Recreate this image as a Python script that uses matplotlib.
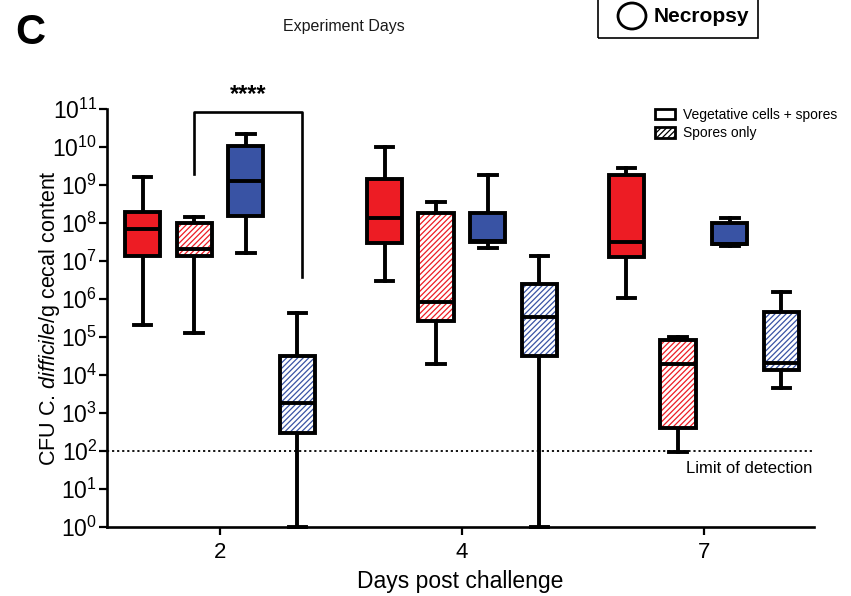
import numpy as np
import matplotlib.pyplot as plt
from matplotlib.patches import Patch, PathPatch, Rectangle, Ellipse

plt.rcParams['font.family'] = ['Liberation Sans', 'DejaVu Sans']
plt.rcParams['mathtext.fontset'] = 'custom'
plt.rcParams['mathtext.rm'] = 'Liberation Sans'
plt.rcParams['mathtext.it'] = 'Liberation Sans:italic'
plt.rcParams['hatch.linewidth'] = 0.9

# days post challenge, 4 boxes per day (log10 CFU values)
days = ['2', '4', '7']
groups = ['Veg red', 'Spore red', 'Veg blue', 'Spore blue']
group_colors = ['#ED1C24', '#ED1C24', '#3953A4', '#3953A4']
group_hatched = [False, True, False, True]

# each entry: [whislo, q1, median, q3, whishi] in log10
day2 = [[5.32, 7.13, 7.84, 8.29, 9.21],
        [5.10, 7.13, 7.32, 8.00, 8.16],
        [7.21, 8.18, 9.10, 10.03, 10.34],
        [0.00, 2.47, 3.26, 4.50, 5.63]]
day4 = [[6.47, 7.47, 8.13, 9.16, 10.00],
        [4.29, 5.42, 5.92, 8.26, 8.55],
        [7.34, 7.50, 7.53, 8.26, 9.26],
        [0.00, 4.50, 5.53, 6.39, 7.13]]
day7 = [[6.03, 7.10, 7.50, 9.26, 9.45],
        [1.97, 2.61, 4.29, 4.92, 5.00],
        [7.39, 7.45, 7.45, 8.00, 8.13],
        [3.66, 4.13, 4.32, 5.66, 6.18]]
all_days = [day2, day4, day7]

offsets = [-0.32, -0.107, 0.107, 0.32]
box_w = 0.145
lod = 1e2

fig = plt.figure(figsize=(8.51, 5.96), dpi=100)
ax = fig.add_axes([0.1257, 0.1158, 0.8308, 0.7013])

stats = []
positions = []
styles = []
for d, vals in enumerate(all_days):
    for g, v in enumerate(vals):
        lo, q1, med, q3, hi = [10 ** x for x in v]
        stats.append(dict(whislo=lo, q1=q1, med=med, q3=q3, whishi=hi, fliers=[]))
        positions.append(d + offsets[g])
        styles.append(g)

lw = 2.8
bp = ax.bxp(stats, positions=positions, widths=box_w, capwidths=box_w * 0.5,
            patch_artist=True, showfliers=False,
            boxprops=dict(linewidth=lw, edgecolor='black'),
            whiskerprops=dict(linewidth=lw, color='black'),
            capprops=dict(linewidth=lw, color='black'),
            medianprops=dict(linewidth=lw, color='black'),
            manage_ticks=False)

for box, g in zip(bp['boxes'], styles):
    box.set_zorder(3)
    if group_hatched[g]:
        box.set_facecolor('none')
        under = PathPatch(box.get_path(), facecolor='white', edgecolor=group_colors[g],
                          hatch='//////', linewidth=0, zorder=2.5,
                          transform=box.get_transform())
        ax.add_patch(under)
    else:
        box.set_facecolor(group_colors[g])
for art in bp['whiskers'] + bp['caps'] + bp['medians']:
    art.set_zorder(3.5)
    art.set_clip_on(False)
for art in bp['whiskers']:
    art.set_zorder(2)

ax.set_yscale('log')
ax.set_ylim(1, 1e11)
ax.set_xlim(-0.467, 2.455)
ax.set_yticks([10.0 ** k for k in range(12)])
ax.set_yticklabels([r'$10^{%d}$' % k for k in range(12)], fontsize=16.5)
ax.set_xticks(range(len(days)))
ax.set_xticklabels(days, fontsize=16)
ax.minorticks_on()
ax.xaxis.set_minor_locator(plt.NullLocator())
ax.tick_params(axis='both', which='major', length=6, width=1.6, direction='out')
ax.tick_params(axis='y', which='minor', length=3, width=1.0, direction='out')
ax.tick_params(axis='y', pad=1)
ax.tick_params(axis='x', pad=5)

for s in ['top', 'right']:
    ax.spines[s].set_visible(False)
for s in ['left', 'bottom']:
    ax.spines[s].set_linewidth(1.9)

ax.set_xlabel('Days post challenge', fontsize=16.5, labelpad=5)
ax.set_ylabel(r'CFU C. $\mathit{difficile}$/g cecal content', fontsize=15.5, labelpad=-7)

# limit of detection
ax.axhline(lod, color='black', linestyle=(0, (1.2, 1.6)), linewidth=1.3, zorder=1)
ax.text(2.45, lod * 0.55, 'Limit of detection', ha='right', va='top', fontsize=12)

# significance bracket between day 2 spore groups
x1 = 0 + offsets[1]
x2 = 0 + offsets[3] + 0.02
ytop = 10 ** 10.92
ax.plot([x1, x1, x2, x2], [10 ** 9.29, ytop, ytop, 10 ** 6.58], color='black',
        linewidth=1.9, clip_on=False, zorder=4)
ax.text((x1 + x2) / 2, 10 ** 11.08, '****', ha='center', va='bottom',
        fontsize=17, fontweight='bold')

# legend
handles = [Patch(facecolor='white', edgecolor='black', linewidth=2.0),
           Patch(facecolor='white', edgecolor='black', hatch='//////', linewidth=2.0)]
fig.legend(handles, ['Vegetative cells + spores', 'Spores only'],
           loc='upper left', bbox_to_anchor=(655 / 851, 1 - 108 / 596),
           frameon=False, fontsize=10, handlelength=1.45, handleheight=0.8,
           handletextpad=0.55, labelspacing=0.3, borderpad=0, borderaxespad=0)

# header pieces
fig.text(15 / 851, 1 - 33 / 596, 'C', fontsize=30, fontweight='bold', va='center', ha='left')
fig.text(283 / 851, 1 - 26 / 596, 'Experiment Days', fontsize=11.5, va='center', ha='left',
         color='#1a1a1a')
fig.add_artist(Rectangle((598 / 851, 1 - 38 / 596), 160 / 851, 50 / 596,
                         transform=fig.transFigure, fill=False, linewidth=1.2,
                         edgecolor='black', clip_on=False))
fig.add_artist(Ellipse((632 / 851, 1 - 16 / 596), 28 / 851, 26 / 596,
                       transform=fig.transFigure, fill=False, linewidth=2.0,
                       edgecolor='black'))
fig.text(654 / 851, 1 - 17 / 596, 'Necropsy', fontsize=15, fontweight='bold',
         va='center', ha='left')

fig.savefig('out.png', dpi=100)
